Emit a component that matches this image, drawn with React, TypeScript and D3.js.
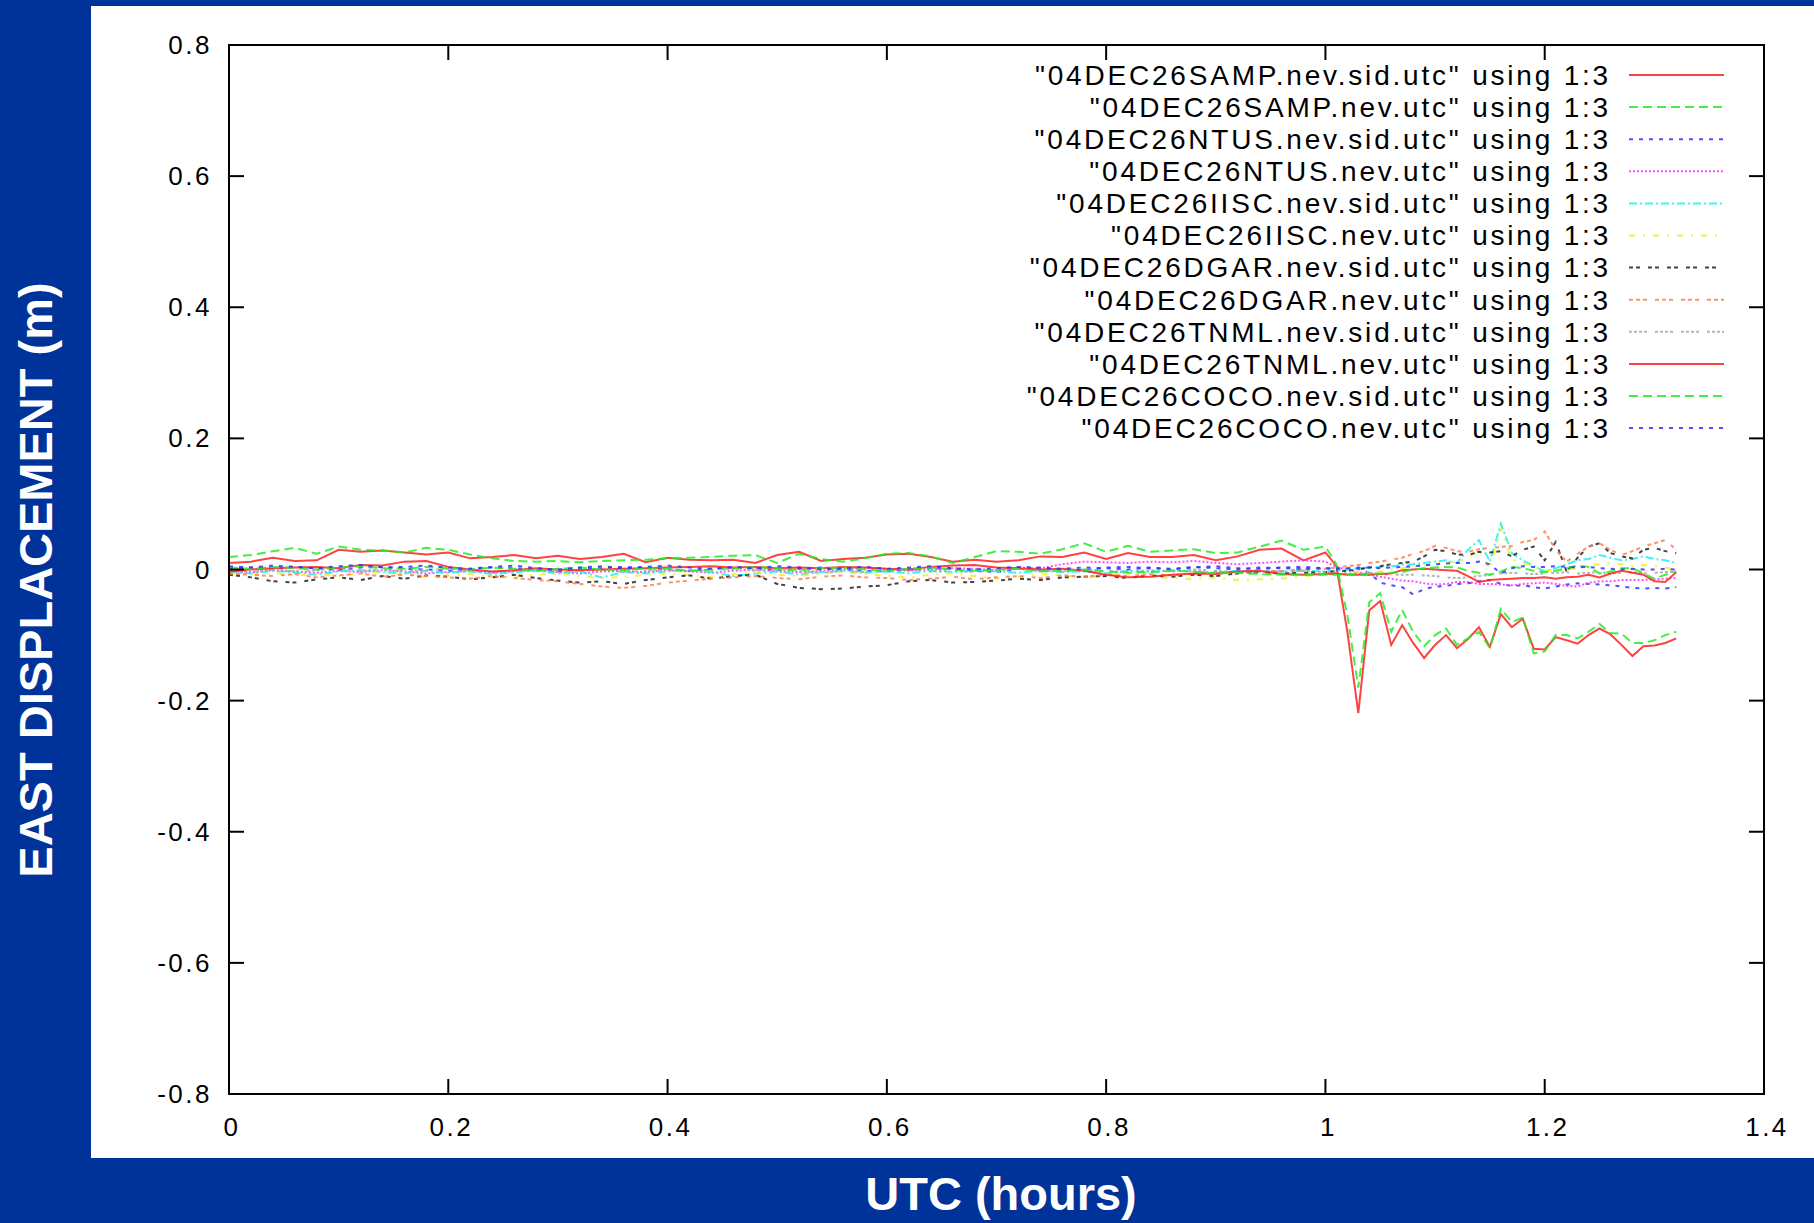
import { useRef, useEffect } from "react";
import * as d3 from "d3";

// UTC hours (common sampling grid for every station file)
const times = [
  0, 0.02, 0.04, 0.06, 0.08, 0.1, 0.12, 0.14, 0.16, 0.18,
  0.2, 0.22, 0.24, 0.26, 0.28, 0.3, 0.32, 0.34, 0.36, 0.38,
  0.4, 0.42, 0.44, 0.46, 0.48, 0.5, 0.52, 0.54, 0.56, 0.58,
  0.6, 0.62, 0.64, 0.66, 0.68, 0.7, 0.72, 0.74, 0.76, 0.78,
  0.8, 0.82, 0.84, 0.86, 0.88, 0.9, 0.92, 0.94, 0.96, 0.98,
  1.0, 1.01, 1.02, 1.03, 1.04, 1.05, 1.06, 1.07, 1.08, 1.09,
  1.1, 1.11, 1.12, 1.13, 1.14, 1.15, 1.16, 1.17, 1.18, 1.19,
  1.2, 1.21, 1.22, 1.23, 1.24, 1.25, 1.26, 1.27, 1.28, 1.29,
  1.3, 1.31, 1.32,
];

// east displacement (m)
const sampSid = [
  0.010, 0.012, 0.018, 0.013, 0.014, 0.030, 0.027, 0.029, 0.026, 0.023,
  0.026, 0.017, 0.019, 0.022, 0.017, 0.021, 0.016, 0.019, 0.024, 0.011,
  0.018, 0.015, 0.014, 0.015, 0.010, 0.022, 0.027, 0.013, 0.016, 0.018,
  0.023, 0.024, 0.019, 0.012, 0.015, 0.012, 0.014, 0.020, 0.019, 0.026,
  0.016, 0.025, 0.019, 0.019, 0.022, 0.014, 0.020, 0.030, 0.032, 0.014,
  0.026, 0.005, -0.095, -0.219, -0.062, -0.048, -0.115, -0.085, -0.112, -0.135,
  -0.115, -0.100, -0.120, -0.106, -0.088, -0.118, -0.068, -0.088, -0.075, -0.121,
  -0.122, -0.103, -0.108, -0.113, -0.100, -0.090, -0.099, -0.115, -0.132, -0.117,
  -0.116, -0.112, -0.105,
];
const sampUtc = [
  0.019, 0.022, 0.028, 0.033, 0.024, 0.035, 0.030, 0.029, 0.026, 0.033,
  0.030, 0.023, 0.017, 0.013, 0.012, 0.013, 0.011, 0.013, 0.014, 0.015,
  0.017, 0.018, 0.019, 0.021, 0.022, 0.010, 0.024, 0.016, 0.012, 0.017,
  0.024, 0.025, 0.020, 0.010, 0.019, 0.028, 0.027, 0.024, 0.031, 0.040,
  0.027, 0.036, 0.027, 0.029, 0.031, 0.025, 0.026, 0.035, 0.044, 0.030,
  0.035, 0.008, -0.070, -0.180, -0.050, -0.036, -0.095, -0.062, -0.095, -0.117,
  -0.100, -0.090, -0.115, -0.105, -0.095, -0.120, -0.060, -0.080, -0.073, -0.128,
  -0.125, -0.100, -0.100, -0.105, -0.095, -0.083, -0.097, -0.098, -0.112, -0.112,
  -0.108, -0.100, -0.095,
];
const ntusSid = [
  0.002, 0.003, 0.001, 0.004, 0.002, -0.001, 0.003, 0.004, 0.001, 0.000,
  -0.002, 0.001, 0.003, 0.002, 0.000, -0.003, 0.001, 0.002, 0.004, 0.002,
  0.000, -0.002, 0.001, 0.003, 0.002, -0.001, 0.001, 0.003, 0.000, -0.002,
  -0.003, 0.000, 0.002, 0.001, -0.002, -0.004, 0.001, 0.002, 0.000, -0.001,
  0.003, 0.004, 0.002, 0.000, 0.003, 0.005, 0.002, 0.001, 0.003, 0.004,
  0.002, 0.000, 0.001, 0.001, -0.005, -0.020, -0.024, -0.027, -0.038, -0.030,
  -0.026, -0.025, -0.022, -0.021, -0.018, -0.016, -0.022, -0.025, -0.024, -0.027,
  -0.029, -0.026, -0.023, -0.021, -0.022, -0.023, -0.024, -0.026, -0.028, -0.029,
  -0.028, -0.029, -0.027,
];
const ntusUtc = [
  -0.002, -0.004, -0.001, -0.003, -0.005, -0.002, -0.004, -0.001, -0.003, -0.006,
  -0.004, -0.002, -0.005, -0.003, -0.001, -0.004, -0.006, -0.003, -0.002, -0.004,
  -0.001, -0.003, -0.005, -0.002, 0.000, -0.003, -0.004, -0.002, 0.000, 0.002,
  0.001, -0.002, 0.000, 0.002, 0.001, -0.001, 0.003, 0.002, 0.008, 0.012,
  0.011, 0.010, 0.012, 0.011, 0.013, 0.010, 0.008, 0.010, 0.012, 0.014,
  0.012, 0.004, 0.000, -0.004, -0.008, -0.011, -0.014, -0.017, -0.018, -0.021,
  -0.023, -0.022, -0.019, -0.019, -0.022, -0.022, -0.023, -0.024, -0.022, -0.021,
  -0.020, -0.022, -0.025, -0.026, -0.020, -0.018, -0.018, -0.016, -0.016, -0.016,
  -0.015, -0.014, -0.013,
];
const iiscSid = [
  -0.004, -0.006, -0.002, -0.005, -0.008, -0.003, -0.001, -0.004, -0.006, -0.002,
  -0.005, -0.003, -0.007, -0.004, -0.002, -0.006, -0.003, -0.012, -0.004, -0.006,
  -0.003, -0.001, -0.004, -0.010, -0.006, -0.003, -0.008, -0.004, -0.002, -0.005,
  -0.003, -0.006, -0.002, -0.004, -0.001, -0.003, -0.005, -0.002, -0.004, -0.003,
  -0.006, -0.002, -0.004, -0.001, -0.003, -0.005, -0.002, -0.004, -0.003, -0.002,
  -0.003, -0.002, 0.000, 0.002, 0.003, 0.004, 0.005, 0.007, 0.008, 0.010,
  0.012, 0.014, 0.010, 0.030, 0.045, 0.012, 0.070, 0.025, 0.014, 0.005,
  -0.003, 0.002, 0.008, 0.014, 0.016, 0.022, 0.018, 0.014, 0.016, 0.020,
  0.016, 0.014, 0.010,
];
const iiscUtc = [
  -0.006, -0.008, -0.005, -0.009, -0.007, -0.010, -0.006, -0.004, -0.008, -0.011,
  -0.009, -0.007, -0.012, -0.010, -0.008, -0.006, -0.010, -0.013, -0.011, -0.008,
  -0.006, -0.009, -0.011, -0.007, -0.005, -0.008, -0.010, -0.006, -0.004, -0.007,
  -0.009, -0.012, -0.008, -0.006, -0.010, -0.014, -0.011, -0.007, -0.009, -0.012,
  -0.010, -0.008, -0.011, -0.013, -0.015, -0.012, -0.016, -0.015, -0.014, -0.010,
  -0.008, -0.007, -0.006, -0.004, -0.004, -0.003, 0.000, 0.002, 0.004, 0.006,
  0.009, 0.012, 0.010, 0.018, 0.030, 0.000, 0.062, 0.015, 0.010, 0.004,
  -0.001, -0.002, 0.000, 0.002, 0.005, 0.008, 0.010, 0.008, 0.005, 0.007,
  0.006, 0.003, -0.001,
];
const dgarSid = [
  -0.008, -0.012, -0.018, -0.020, -0.015, -0.012, -0.016, -0.010, -0.014, -0.009,
  -0.011, -0.015, -0.012, -0.008, -0.013, -0.017, -0.020, -0.018, -0.022, -0.016,
  -0.012, -0.009, -0.014, -0.010, -0.008, -0.022, -0.028, -0.030, -0.029, -0.026,
  -0.024, -0.018, -0.016, -0.020, -0.019, -0.017, -0.014, -0.016, -0.012, -0.011,
  -0.010, -0.013, -0.009, -0.011, -0.008, -0.010, -0.006, -0.004, -0.006, -0.005,
  -0.004, -0.003, -0.002, 0.000, 0.003, 0.005, 0.008, 0.010, 0.012, 0.020,
  0.030, 0.028, 0.023, 0.022, 0.027, 0.026, 0.028, 0.020, 0.030, 0.035,
  0.014, 0.042, -0.003, 0.018, 0.035, 0.040, 0.025, 0.020, 0.017, 0.030,
  0.033, 0.028, 0.025,
];
const dgarUtc = [
  -0.006, -0.008, -0.010, -0.007, -0.012, -0.009, -0.006, -0.011, -0.008, -0.010,
  -0.012, -0.014, -0.010, -0.013, -0.016, -0.018, -0.022, -0.026, -0.028, -0.025,
  -0.020, -0.017, -0.014, -0.012, -0.010, -0.013, -0.015, -0.011, -0.009, -0.012,
  -0.013, -0.016, -0.014, -0.011, -0.015, -0.012, -0.010, -0.013, -0.009, -0.011,
  -0.008, -0.010, -0.007, -0.009, -0.006, -0.004, -0.005, -0.003, -0.002, 0.000,
  0.001, 0.003, 0.005, 0.007, 0.010, 0.012, 0.015, 0.018, 0.024, 0.028,
  0.036, 0.033, 0.028, 0.027, 0.031, 0.033, 0.034, 0.036, 0.042, 0.045,
  0.058, 0.030, 0.012, 0.024, 0.035, 0.040, 0.030, 0.022, 0.028, 0.035,
  0.040, 0.045, 0.030,
];
const tnmlSid = [
  -0.002, -0.004, 0.000, -0.003, -0.001, 0.002, -0.002, 0.000, -0.003, -0.001,
  0.001, -0.002, -0.004, -0.001, 0.001, -0.003, -0.002, 0.000, -0.004, -0.002,
  0.000, -0.003, -0.001, 0.001, -0.002, 0.000, -0.003, -0.005, -0.002, -0.004,
  -0.001, 0.000, -0.003, -0.002, -0.004, -0.001, 0.001, -0.002, -0.003, 0.000,
  -0.002, -0.004, -0.001, -0.003, 0.000, -0.002, -0.004, -0.001, -0.003, -0.002,
  -0.004, -0.005, -0.006, -0.006, -0.005, -0.007, -0.008, -0.008, -0.008, -0.009,
  -0.010, -0.012, -0.013, -0.012, -0.010, -0.008, -0.006, -0.005, -0.006, -0.007,
  -0.006, -0.005, -0.004, -0.006, -0.005, -0.004, -0.006, -0.005, -0.004, -0.006,
  -0.005, -0.004, -0.003,
];
const tnmlUtc = [
  -0.003, 0.000, 0.002, 0.003, 0.004, 0.002, 0.007, 0.006, 0.012, 0.013,
  0.004, 0.000, -0.003, -0.001, 0.002, 0.000, -0.001, 0.000, 0.001, 0.002,
  0.003, 0.004, 0.005, 0.003, 0.004, 0.002, 0.003, 0.002, 0.004, 0.003,
  0.001, 0.000, 0.004, 0.006, 0.007, 0.003, 0.002, 0.000, 0.001, -0.002,
  -0.008, -0.012, -0.011, -0.008, -0.006, -0.007, -0.003, -0.002, -0.007, -0.008,
  -0.007, -0.006, -0.008, -0.008, -0.008, -0.007, -0.006, -0.001, 0.000, 0.001,
  0.000, -0.001, -0.002, -0.010, -0.019, -0.016, -0.015, -0.014, -0.013, -0.013,
  -0.012, -0.014, -0.012, -0.011, -0.008, -0.012, -0.006, -0.002, -0.005, -0.008,
  -0.018, -0.019, -0.004,
];
const cocoSid = [
  0.003, 0.001, 0.004, 0.002, 0.000, 0.003, 0.005, 0.002, 0.001, 0.004,
  0.002, 0.000, 0.003, 0.001, -0.002, 0.001, 0.003, 0.000, -0.001, 0.002,
  0.001, -0.002, 0.000, 0.002, 0.004, 0.001, -0.001, 0.002, 0.003, 0.000,
  -0.002, 0.001, 0.003, 0.000, -0.002, -0.001, 0.001, -0.003, -0.002, 0.000,
  -0.003, -0.005, -0.004, -0.002, -0.003, -0.006, -0.005, -0.007, -0.008, -0.008,
  -0.008, -0.008, -0.008, -0.007, -0.007, -0.006, -0.005, -0.004, 0.000, 0.002,
  0.003, 0.004, 0.003, -0.002, -0.005, -0.008, -0.003, 0.004, 0.002, -0.002,
  -0.004, -0.002, 0.002, 0.006, 0.004, -0.006, -0.003, 0.002, 0.002, -0.006,
  -0.014, -0.008, -0.003,
];
const cocoUtc = [
  0.005, 0.003, 0.006, 0.004, 0.002, 0.005, 0.007, 0.003, 0.004, 0.006,
  0.003, 0.001, 0.004, 0.006, 0.002, 0.000, 0.003, 0.005, 0.002, 0.004,
  0.006, 0.003, 0.001, 0.004, 0.002, 0.005, 0.003, 0.000, 0.002, 0.004,
  0.001, 0.003, 0.005, 0.002, 0.000, 0.002, 0.004, 0.003, 0.001, 0.003,
  0.002, 0.000, 0.003, 0.001, 0.004, 0.002, 0.000, 0.003, 0.002, 0.001,
  0.002, 0.002, 0.002, 0.003, 0.003, 0.002, 0.003, 0.004, 0.005, 0.006,
  0.008, 0.009, 0.010, 0.010, 0.012, 0.008, -0.006, 0.002, 0.005, 0.004,
  0.004, 0.005, 0.004, 0.003, 0.004, 0.002, 0.001, 0.000, 0.001, 0.000,
  0.000, 0.001, 0.000,
];

const seriesValues = [
  sampSid, sampUtc, ntusSid, ntusUtc, iiscSid, iiscUtc,
  dgarSid, dgarUtc, tnmlSid, tnmlUtc, cocoSid, cocoUtc,
];
const seriesLabels = [
  '"04DEC26SAMP.nev.sid.utc" using 1:3',
  '"04DEC26SAMP.nev.utc" using 1:3',
  '"04DEC26NTUS.nev.sid.utc" using 1:3',
  '"04DEC26NTUS.nev.utc" using 1:3',
  '"04DEC26IISC.nev.sid.utc" using 1:3',
  '"04DEC26IISC.nev.utc" using 1:3',
  '"04DEC26DGAR.nev.sid.utc" using 1:3',
  '"04DEC26DGAR.nev.utc" using 1:3',
  '"04DEC26TNML.nev.sid.utc" using 1:3',
  '"04DEC26TNML.nev.utc" using 1:3',
  '"04DEC26COCO.nev.sid.utc" using 1:3',
  '"04DEC26COCO.nev.utc" using 1:3',
];
const xTicks = [0, 0.2, 0.4, 0.6, 0.8, 1, 1.2, 1.4];
const yTicks = [-0.8, -0.6, -0.4, -0.2, 0, 0.2, 0.4, 0.6, 0.8];

// gnuplot-ish line types
const colors = [
  "#ff2020", "#20ee20", "#3030ff", "#ff30ff", "#20f0f0", "#f0f020",
  "#222222", "#ff7f50", "#a8a8a8", "#ff2020", "#20ee20", "#3030ff",
];
const dashes = [
  null, "9,5", "4,6", "2,2", "8,3,2,3", "6,8,2,8",
  "4,3,4,8", "4,3,4,3,4,8", "3,2,3,2,3,2,3,8", null, "9,5", "4,6",
];

const W = 1814;
const H = 1223;
const FONT = "'Liberation Sans', Arial, Helvetica, sans-serif";

const App = () => {
  const svgRef = useRef(null);

  useEffect(() => {
    const svg = d3.select(svgRef.current);
    svg.selectAll("*").remove();

    const left = 229, right = 1764, top = 45, bottom = 1094;
    const xScale = d3.scaleLinear().domain([0, 1.4]).range([left, right]);
    const yScale = d3.scaleLinear().domain([-0.8, 0.8]).range([bottom, top]);

    // background
    svg.append("rect").attr("width", W).attr("height", H).attr("fill", "#003399");
    svg.append("rect").attr("x", 91).attr("y", 6).attr("width", W - 91).attr("height", 1152).attr("fill", "#fff");

    // data
    const line = d3
      .line<[number, number]>()
      .x((d) => xScale(d[0]))
      .y((d) => yScale(d[1]));

    seriesValues.forEach((vals, i) => {
      const pts = times.map((t, j) => [t, vals[j]] as [number, number]).filter((p) => p[1] !== undefined);
      svg
        .append("path")
        .attr("d", line(pts))
        .attr("fill", "none")
        .attr("stroke", colors[i])
        .attr("stroke-width", 2)
        .attr("stroke-opacity", 0.85)
        .attr("stroke-dasharray", dashes[i]);
    });

    // frame + inward ticks on all sides
    const tickLen = 15;
    const g = svg.append("g").attr("stroke", "#000").attr("stroke-width", 2);
    yTicks.forEach((v) => {
      g.append("line").attr("x1", left).attr("x2", left + tickLen).attr("y1", yScale(v)).attr("y2", yScale(v));
      g.append("line").attr("x1", right).attr("x2", right - tickLen).attr("y1", yScale(v)).attr("y2", yScale(v));
    });
    xTicks.forEach((v) => {
      g.append("line").attr("x1", xScale(v)).attr("x2", xScale(v)).attr("y1", bottom).attr("y2", bottom - tickLen);
      g.append("line").attr("x1", xScale(v)).attr("x2", xScale(v)).attr("y1", top).attr("y2", top + tickLen);
    });
    g.append("rect")
      .attr("x", left)
      .attr("y", top)
      .attr("width", right - left)
      .attr("height", bottom - top)
      .attr("fill", "none");

    // tick labels (plain hyphen minus, as gnuplot prints them)
    svg
      .append("g")
      .selectAll("text")
      .data(yTicks)
      .join("text")
      .attr("x", 212)
      .attr("y", (d) => yScale(d))
      .attr("dy", "0.35em")
      .attr("text-anchor", "end")
      .attr("font-family", FONT)
      .attr("font-size", 26)
      .style("letter-spacing", "2.5px")
      .text((d) => String(Math.round(d * 10) / 10));
    svg
      .append("g")
      .selectAll("text")
      .data(xTicks)
      .join("text")
      .attr("x", (d) => xScale(d) + 3)
      .attr("y", 1127)
      .attr("dy", "0.35em")
      .attr("text-anchor", "middle")
      .attr("font-family", FONT)
      .attr("font-size", 26)
      .style("letter-spacing", "2.5px")
      .text((d) => String(d));

    // legend
    const lg = svg.append("g");
    seriesLabels.forEach((label, i) => {
      const y = 75 + i * 32.1;
      lg.append("text")
        .attr("x", 1611)
        .attr("y", y)
        .attr("dy", "0.35em")
        .attr("text-anchor", "end")
        .attr("font-family", FONT)
        .attr("font-size", 28)
        .style("letter-spacing", "2.8px")
        .text(label);
      lg.append("line")
        .attr("x1", 1629)
        .attr("x2", 1724)
        .attr("y1", y)
        .attr("y2", y)
        .attr("stroke", colors[i])
        .attr("stroke-width", 2)
        .attr("stroke-opacity", 0.85)
        .attr("stroke-dasharray", dashes[i]);
    });

    // axis titles
    svg
      .append("text")
      .attr("transform", "translate(36,580) rotate(-90)")
      .attr("dy", "0.35em")
      .attr("text-anchor", "middle")
      .attr("font-family", FONT)
      .attr("font-weight", "bold")
      .attr("font-size", 47)
      .attr("fill", "#fff")
      .text("EAST DISPLACEMENT (m)");
    svg
      .append("text")
      .attr("x", 1001)
      .attr("y", 1210)
      .attr("text-anchor", "middle")
      .attr("font-family", FONT)
      .attr("font-weight", "bold")
      .attr("font-size", 47)
      .attr("fill", "#fff")
      .text("UTC (hours)");
  }, []);

  return (
    <svg
      ref={svgRef}
      width={W}
      height={H}
      style={{ position: "absolute", left: 0, top: 0, display: "block" }}
    ></svg>
  );
};

export default App;
